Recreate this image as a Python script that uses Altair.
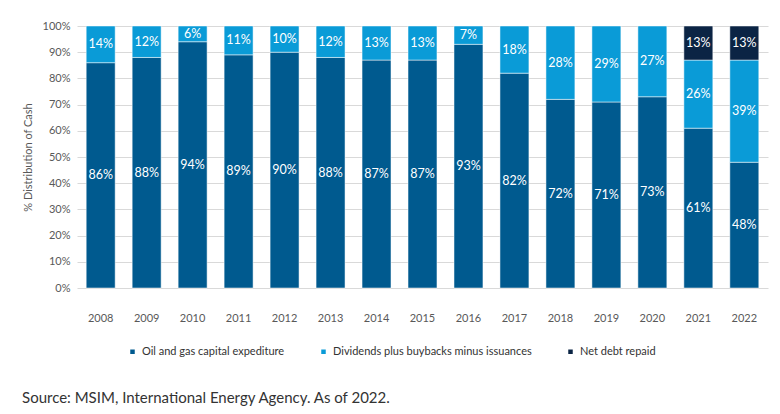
import pandas as pd
import altair as alt

# ---------- data ----------
years = [str(y) for y in range(2008, 2023)]
capex = [86, 88, 94, 89, 90, 88, 87, 87, 93, 82, 72, 71, 73, 61, 48]
dividends = [14, 12, 6, 11, 10, 12, 13, 13, 7, 18, 28, 29, 27, 26, 39]
net_debt = [0, 0, 0, 0, 0, 0, 0, 0, 0, 0, 0, 0, 0, 13, 13]

series = ["Oil and gas capital expediture",
          "Dividends plus buybacks minus issuances",
          "Net debt repaid"]
colors = ["#005a8f", "#0a9bd7", "#0b2444"]

rows = []
for i, yr in enumerate(years):
    for k, vals in enumerate([capex, dividends, net_debt]):
        rows.append({"year": yr, "series": series[k], "order": k, "value": vals[i]})
df = pd.DataFrame(rows)

FONT = "Lato"
GREY = "#595959"

base = alt.Chart(df).transform_filter("datum.value > 0").transform_stack(
    stack="value", groupby=["year"], as_=["v0", "v1"],
    sort=[alt.SortField("order", order="ascending")]
).transform_calculate(
    p0="datum.v0 / 100", p1="datum.v1 / 100", mid="(datum.v0 + datum.v1) / 200",
    label="datum.value + '%'"
)

x = alt.X("year:N", title=None,
          scale=alt.Scale(paddingInner=0.37, paddingOuter=0.2),
          axis=alt.Axis(labelAngle=0, ticks=False, domain=False, labelPadding=24,
                        labelFont=FONT, labelFontSize=11, labelColor=GREY))

yaxis = alt.Axis(format=".0%", values=[round(i / 10, 1) for i in range(11)],
                 tickCount=11, ticks=False, domain=False, gridColor="#d9d9d9",
                 labelPadding=7, labelFont=FONT, labelFontSize=11,
                 labelColor=GREY, titleFont=FONT, titleFontSize=11,
                 titleColor=GREY, titleFontWeight="normal", titlePadding=9)
yscale = alt.Scale(domain=[0, 1], nice=False)

bars = base.mark_bar(stroke="white", strokeWidth=0.5).encode(
    x=x,
    y=alt.Y("p0:Q", title="% Distribution of Cash", scale=yscale, axis=yaxis),
    y2="p1:Q",
    color=alt.Color("series:N", sort=series,
                    scale=alt.Scale(domain=series, range=colors),
                    legend=alt.Legend(title=None, orient="none", direction="horizontal",
                                      legendX=50, legendY=320,
                                      symbolType="square", symbolSize=36,
                                      columnPadding=32, labelLimit=400, labelFont=FONT,
                                      labelFontSize=11, labelColor="#333333")),
    order=alt.Order("order:Q"),
)

labels = base.mark_text(color="white", font=FONT, fontSize=12.5).encode(
    x=x,
    y=alt.Y("mid:Q", title="% Distribution of Cash", scale=yscale, axis=yaxis),
    text="label:N",
)

chart = (bars + labels).properties(
    width=691, height=262,
    autosize=alt.AutoSizeParams(type="none"),
    padding={"left": 69, "top": 18, "right": 4, "bottom": 126},
    title=alt.TitleParams("Source: MSIM, International Energy Agency. As of 2022.",
                          orient="bottom", anchor="start", frame="bounds",
                          font=FONT, fontSize=15, fontWeight="normal",
                          color="#333333", offset=33, dx=0),
).configure_view(stroke=None)

chart.save("out.html", embed_options={"renderer": "svg", "actions": False})
